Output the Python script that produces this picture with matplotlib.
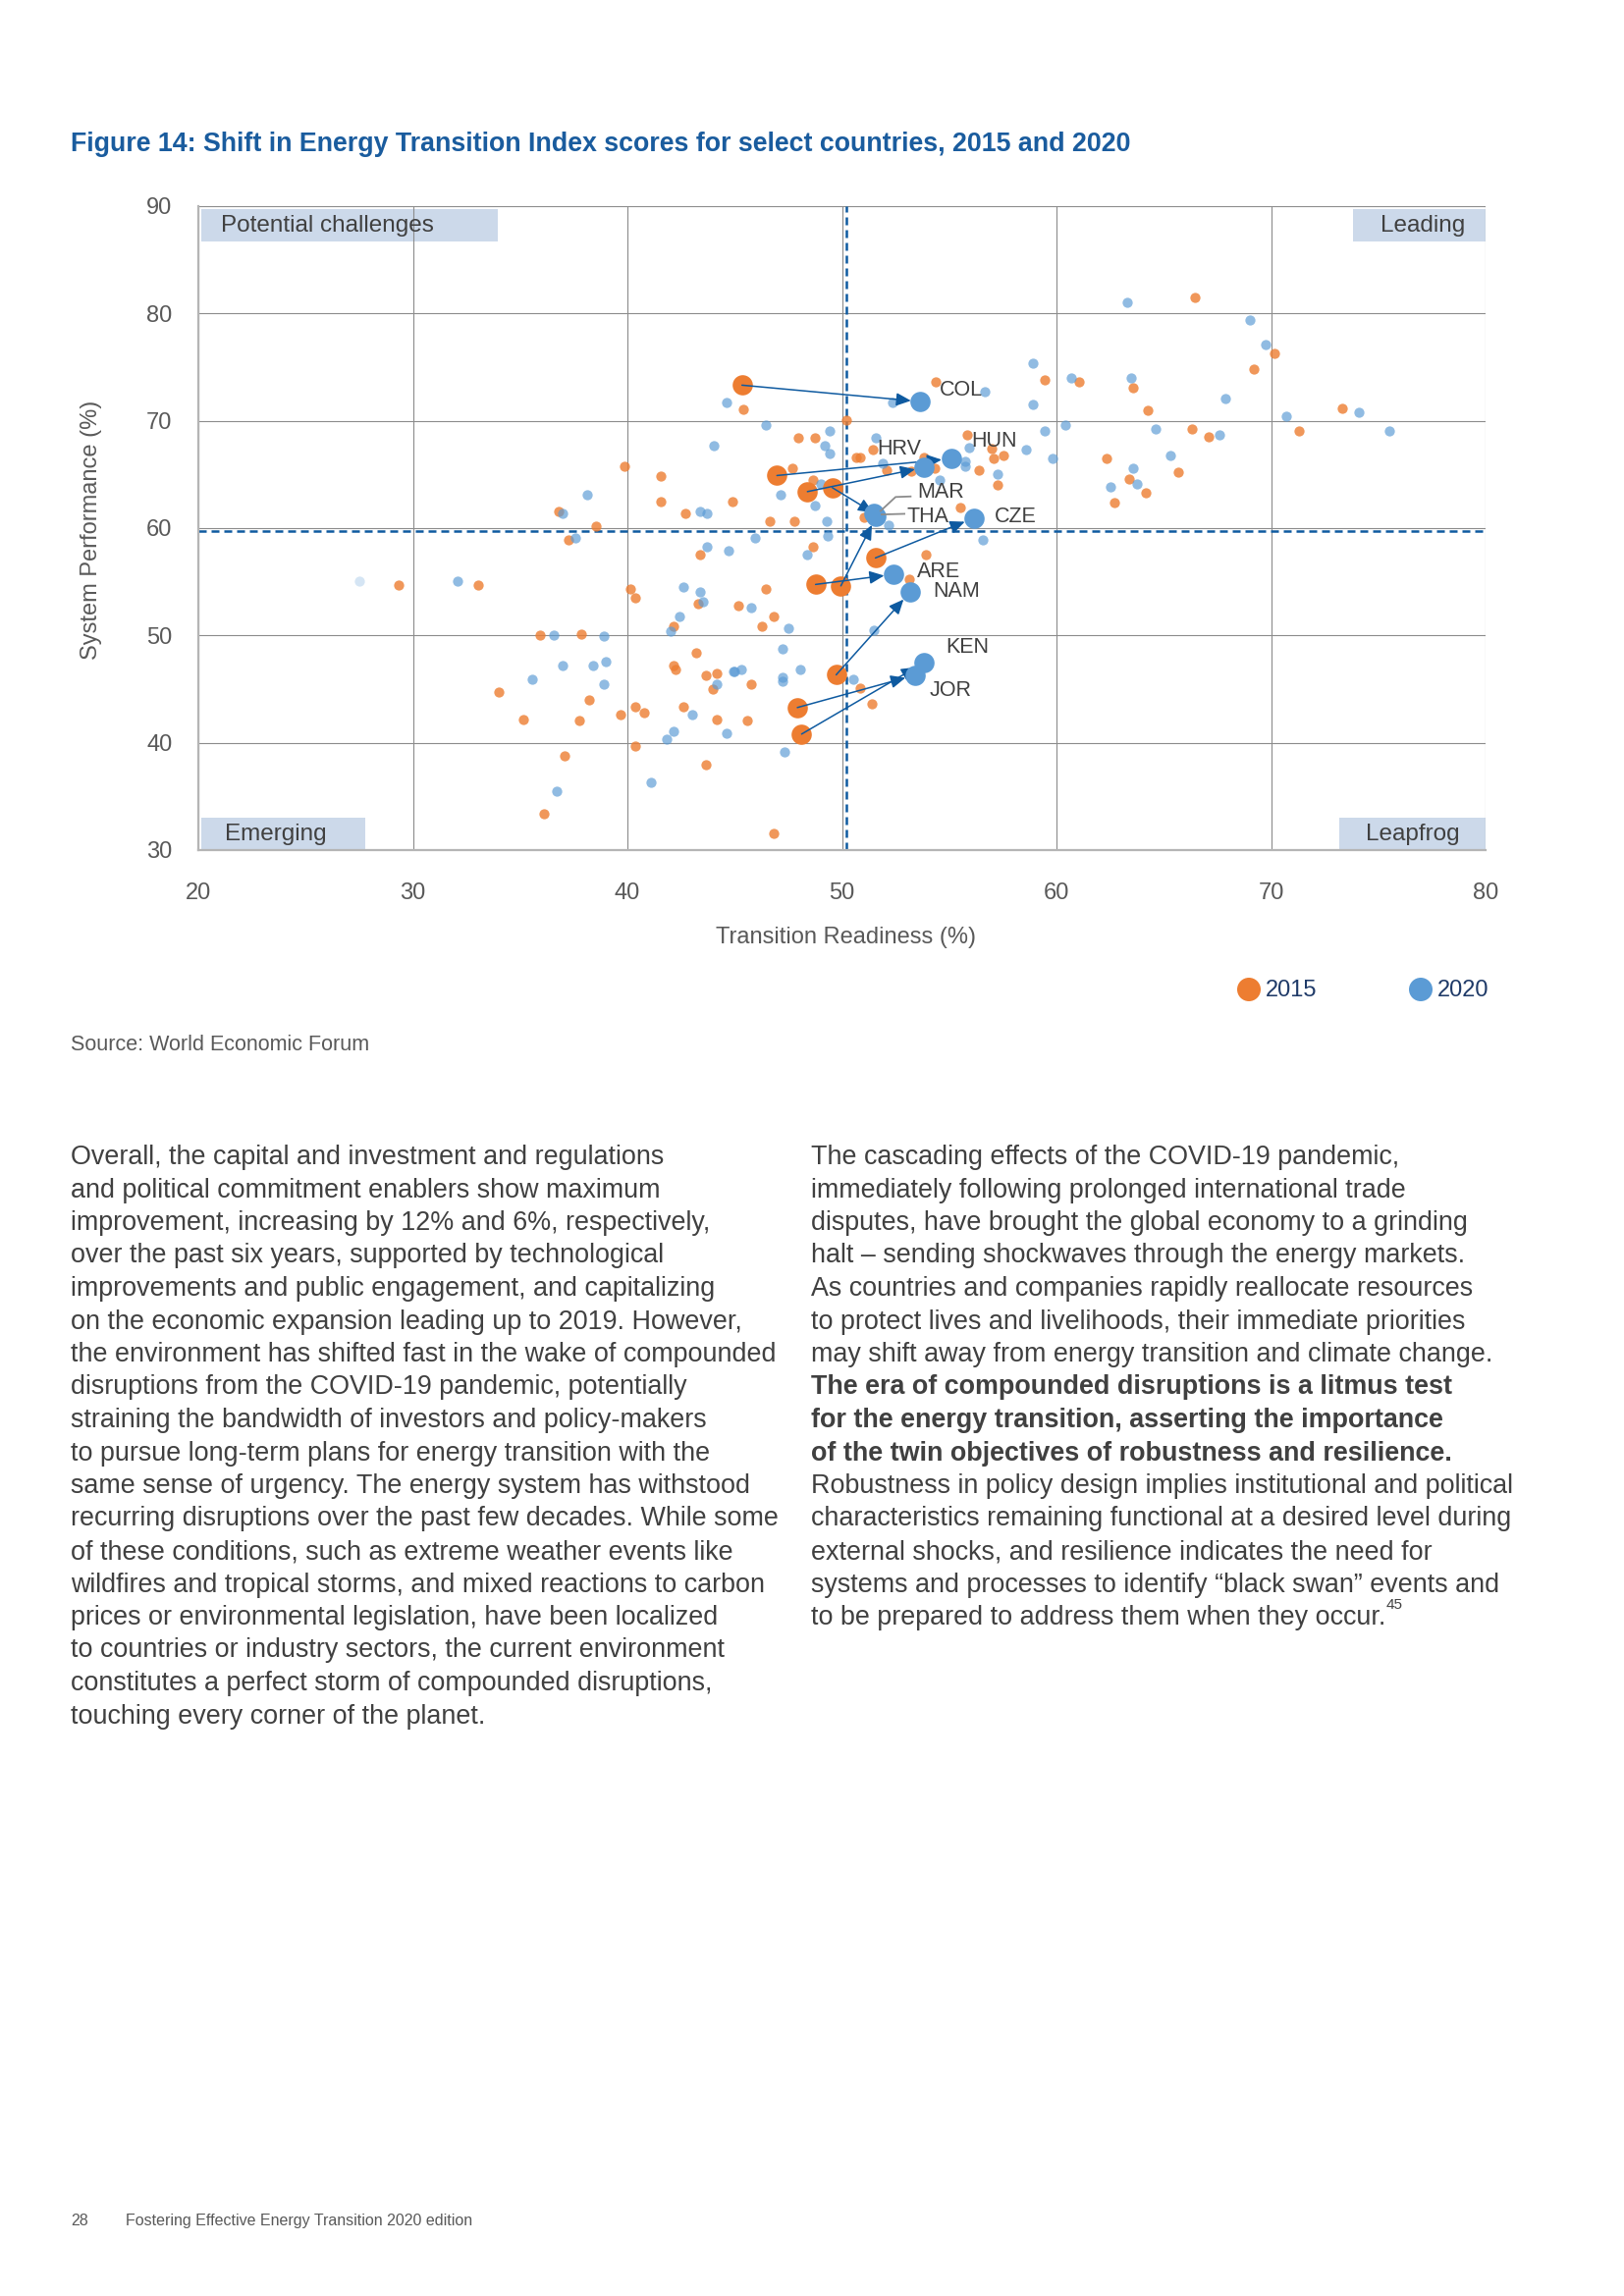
import matplotlib.pyplot as plt
from matplotlib.patches import Rectangle, Circle

plt.rcParams['font.family'] = ['Liberation Sans', 'DejaVu Sans']

# all countries, 2015 scores: transition readiness (x) and system performance (y)
tr_2015 = [29.33, 33.06, 35.93, 34.02, 35.16, 37.07, 36.12, 41.56, 41.56, 42.71,
           36.78, 44.89, 38.52, 37.27, 43.39, 40.12, 40.35, 43.29, 45.19, 42.14,
           37.83, 38.21, 37.76, 39.66, 40.35, 40.8, 43.19, 42.14, 42.25, 43.67,
           44.15, 43.96, 42.6, 44.15, 40.35, 43.67, 45.39, 50.19, 47.98, 48.74,
           51.44, 50.66, 50.86, 39.84, 47.69, 48.65, 46.64, 47.78, 51.04, 48.65,
           46.44, 46.84, 54.36, 59.45, 61.07, 55.82, 56.96, 57.05, 57.54, 52.07,
           53.81, 54.34, 53.24, 56.4, 57.26, 55.53, 53.9, 53.14, 46.26, 45.77,
           50.84, 51.41, 45.59, 46.84, 66.44, 70.17, 69.2, 63.56, 64.24, 73.31,
           71.3, 66.33, 67.11, 62.33, 65.67, 63.38, 64.15, 62.71]
sp_2015 = [54.68, 54.68, 50.05, 44.71, 42.21, 38.76, 33.4, 64.81, 62.49, 61.39,
           61.57, 62.49, 60.2, 58.89, 57.52, 54.32, 53.52, 52.95, 52.79, 50.81,
           50.08, 43.95, 42.03, 42.61, 43.34, 42.79, 48.34, 47.21, 46.84, 46.24,
           46.45, 45.01, 43.36, 42.21, 39.74, 38.0, 71.09, 70.03, 68.44, 68.44,
           67.31, 66.55, 66.55, 65.78, 65.6, 64.45, 60.6, 60.6, 61.03, 58.28,
           54.32, 51.78, 73.62, 73.81, 73.62, 68.68, 67.43, 66.51, 66.76, 65.39,
           66.61, 65.55, 65.3, 65.39, 64.04, 61.94, 57.55, 55.23, 50.84, 45.47,
           45.1, 43.59, 42.06, 31.51, 81.46, 76.3, 74.78, 73.05, 70.94, 71.15,
           69.02, 69.23, 68.47, 66.51, 65.21, 64.59, 63.28, 62.34]

# all countries, 2020 scores
tr_2020 = [32.09, 36.58, 36.98, 35.55, 36.69, 38.14, 36.99, 43.39, 43.7, 37.56,
           43.7, 44.73, 42.6, 43.39, 43.51, 42.43, 42.02, 38.9, 38.41, 38.99,
           38.9, 44.15, 44.94, 43.01, 42.14, 41.84, 44.61, 41.11, 44.64, 46.44,
           49.41, 49.21, 49.41, 51.59, 44.05, 49.03, 47.13, 48.72, 49.3, 45.97,
           49.32, 48.36, 45.77, 56.68, 52.36, 58.88, 58.88, 60.7, 60.42, 59.46,
           58.59, 59.83, 55.93, 55.74, 55.74, 51.89, 54.57, 57.26, 52.18, 56.56,
           47.49, 51.51, 47.22, 48.07, 45.01, 45.3, 47.22, 47.22, 50.54, 47.31,
           63.3, 69.01, 69.77, 63.47, 67.87, 70.73, 74.09, 75.53, 64.62, 67.6,
           65.29, 63.56, 63.77, 62.5]
sp_2020 = [55.02, 50.05, 47.21, 45.87, 35.5, 63.1, 61.39, 61.57, 61.39, 59.05,
           58.28, 57.91, 54.47, 54.07, 53.1, 51.78, 50.41, 49.9, 47.21, 47.58,
           45.47, 45.47, 46.63, 42.61, 41.05, 40.29, 40.9, 36.3, 71.7, 69.6,
           69.05, 67.7, 66.92, 68.44, 67.68, 64.08, 63.1, 62.12, 60.6, 59.05,
           59.26, 57.52, 52.55, 72.68, 71.7, 75.36, 71.52, 73.99, 69.6, 69.02,
           67.31, 66.51, 67.49, 66.21, 65.76, 66.0, 64.47, 65.0, 60.27, 58.87,
           50.66, 50.48, 48.74, 46.82, 46.63, 46.82, 46.08, 45.69, 45.87, 39.16,
           81.06, 79.36, 77.07, 73.99, 72.1, 70.39, 70.76, 69.02, 69.23, 68.65,
           66.76, 65.57, 64.08, 63.86]

# one faded 2020 point at the far left
faint_tr = [27.5]
faint_sp = [55.02]

# highlighted countries
countries = ['COL', 'HUN', 'HRV', 'MAR', 'THA', 'CZE', 'ARE', 'NAM', 'KEN', 'JOR']
c_tr_2015 = [45.34, 46.97, 48.39, 49.55, 49.95, 51.56, 48.77, 49.73, 48.12, 47.92]
c_sp_2015 = [73.32, 64.9, 63.4, 63.77, 54.62, 57.22, 54.75, 46.33, 40.81, 43.28]
c_tr_2020 = [53.66, 55.09, 53.84, 51.5, 51.6, 56.14, 52.41, 53.17, 53.84, 53.39]
c_sp_2020 = [71.79, 66.46, 65.66, 61.39, 61.09, 60.93, 55.69, 54.02, 47.48, 46.29]
label_tr = [54.55, 56.04, 51.65, 53.52, 53.02, 57.13, 53.48, 54.26, 54.86, 54.1]
label_sp = [72.83, 68.1, 67.37, 63.31, 61.03, 61.03, 55.91, 54.11, 48.92, 44.87]
arrow_gap = [7, 7, 7, 1, 7, 7, 7, 7, 7, 7]

avg_tr = 50.2
avg_sp = 59.7

title = 'Figure 14: Shift in Energy Transition Index scores for select countries, 2015 and 2020'

left_col = [
    'Overall, the capital and investment and regulations',
    'and political commitment enablers show maximum',
    'improvement, increasing by 12% and 6%, respectively,',
    'over the past six years, supported by technological',
    'improvements and public engagement, and capitalizing',
    'on the economic expansion leading up to 2019. However,',
    'the environment has shifted fast in the wake of compounded',
    'disruptions from the COVID-19 pandemic, potentially',
    'straining the bandwidth of investors and policy-makers',
    'to pursue long-term plans for energy transition with the',
    'same sense of urgency. The energy system has withstood',
    'recurring disruptions over the past few decades. While some',
    'of these conditions, such as extreme weather events like',
    'wildfires and tropical storms, and mixed reactions to carbon',
    'prices or environmental legislation, have been localized',
    'to countries or industry sectors, the current environment',
    'constitutes a perfect storm of compounded disruptions,',
    'touching every corner of the planet.',
]
right_col = [
    'The cascading effects of the COVID-19 pandemic,',
    'immediately following prolonged international trade',
    'disputes, have brought the global economy to a grinding',
    'halt \u2013 sending shockwaves through the energy markets.',
    'As countries and companies rapidly reallocate resources',
    'to protect lives and livelihoods, their immediate priorities',
    'may shift away from energy transition and climate change.',
    'The era of compounded disruptions is a litmus test',
    'for the energy transition, asserting the importance',
    'of the twin objectives of robustness and resilience.',
    'Robustness in policy design implies institutional and political',
    'characteristics remaining functional at a desired level during',
    'external shocks, and resilience indicates the need for',
    'systems and processes to identify \u201cblack swan\u201d events and',
    'to be prepared to address them when they occur.',
]
bold_lines = [7, 8, 9]

orange = '#ED7D31'
blue = '#5B9BD5'
navy = '#0E5AA0'
grey_txt = '#595959'

W, H = 1654, 2339
fig = plt.figure(figsize=(W / 100, H / 100), dpi=100)

# page layer in pixel coordinates
page = fig.add_axes([0, 0, 1, 1], zorder=0)
page.set_xlim(0, W)
page.set_ylim(H, 0)
page.axis('off')

page.text(72, 154, title, fontsize=19.3, fontweight='bold', color='#1A5C9E', va='baseline')

ax = fig.add_axes([202 / W, 1 - 866 / H, 1311 / W, 656 / H], zorder=1)
ax.set_xlim(20, 80)
ax.set_ylim(30, 90)
ax.set_xticks(range(20, 81, 10))
ax.set_yticks(range(30, 91, 10))
ax.grid(True, color='#8C8C8C', lw=0.8, zorder=0)
for s in ['top', 'right']:
    ax.spines[s].set_visible(False)
for s in ['left', 'bottom']:
    ax.spines[s].set_color('#B5B5B5')
    ax.spines[s].set_linewidth(1.6)
ax.tick_params(axis='x', length=0, pad=24, labelsize=17, labelcolor=grey_txt)
ax.tick_params(axis='y', length=0, pad=19, labelsize=17, labelcolor=grey_txt)
ax.set_xlabel('Transition Readiness (%)', fontsize=17, color=grey_txt)
ax.set_ylabel('System Performance (%)', fontsize=17, color=grey_txt)
ax.xaxis.set_label_coords(0.503, -0.135)
ax.xaxis.label.set_va('center')
ax.yaxis.set_label_coords(-0.083, 0.497)
ax.yaxis.label.set_va('center')

# average lines
ax.axvline(avg_tr, color=navy, lw=1.8, ls=(0, (3.2, 2.0)), zorder=2)
ax.axhline(avg_sp, color=navy, lw=1.8, ls=(0, (3.2, 2.0)), zorder=2)

# quadrant tags
box_c = '#CCD9EA'
ax.add_patch(Rectangle((20.15, 86.7), 13.8, 3.0, color=box_c, lw=0, zorder=1))
ax.add_patch(Rectangle((73.8, 86.7), 6.2, 3.0, color=box_c, lw=0, zorder=1))
ax.add_patch(Rectangle((20.15, 30.0), 7.65, 3.0, color=box_c, lw=0, zorder=1))
ax.add_patch(Rectangle((73.2, 30.0), 6.8, 3.0, color=box_c, lw=0, zorder=1))
q_kw = dict(fontsize=17.5, color='#404040', va='center', zorder=3)
ax.text(21.05, 88.2, 'Potential challenges', ha='left', **q_kw)
ax.text(79.05, 88.2, 'Leading', ha='right', **q_kw)
ax.text(21.25, 31.45, 'Emerging', ha='left', **q_kw)
ax.text(78.8, 31.45, 'Leapfrog', ha='right', **q_kw)

# all countries
ax.scatter(faint_tr, faint_sp, s=55, color=blue, alpha=0.25, lw=0, zorder=3)
ax.scatter(tr_2015, sp_2015, s=55, color=orange, alpha=0.8, lw=0, zorder=3)
ax.scatter(tr_2020, sp_2020, s=55, color=blue, alpha=0.68, lw=0, zorder=3)

# highlighted countries
ax.scatter(c_tr_2015, c_sp_2015, s=220, color=orange, lw=0, zorder=4)
for i in range(len(countries)):
    ax.annotate('', xy=(c_tr_2020[i], c_sp_2020[i]), xytext=(c_tr_2015[i], c_sp_2015[i]),
                arrowprops=dict(arrowstyle='-|>,head_length=0.45,head_width=0.2',
                                color=navy, lw=1.1, shrinkA=0, shrinkB=arrow_gap[i],
                                mutation_scale=20), zorder=5)
ax.scatter(c_tr_2020, c_sp_2020, s=220, color=blue, lw=0, zorder=6)
for i, c in enumerate(countries):
    ax.text(label_tr[i], label_sp[i], c, fontsize=15.5, color='#404040',
            ha='left', va='center', zorder=7)

# leader lines for MAR and THA
ax.plot([53.2, 52.5, 51.8], [62.95, 62.9, 61.6], color='#8C8C8C', lw=1.3, zorder=7)
ax.plot([52.91, 51.85], [61.33, 61.27], color='#8C8C8C', lw=1.3, zorder=7)

# legend
page.add_patch(Circle((1272, 1008), 12, color=orange, lw=0))
page.add_patch(Circle((1447, 1008), 12, color=blue, lw=0))
page.text(1289, 1009, '2015', fontsize=17, color='#1F3A68', va='center')
page.text(1464, 1009, '2020', fontsize=17, color='#1F3A68', va='center')

page.text(72, 1070, 'Source: World Economic Forum', fontsize=15.5, color=grey_txt, va='baseline')

# body text
body_c = '#404040'
for i, line in enumerate(left_col):
    page.text(72, 1186 + 33.5 * i, line, fontsize=19.4, color=body_c, va='baseline')
for i, line in enumerate(right_col):
    t = page.text(826, 1186 + 33.5 * i, line, fontsize=19.4, color=body_c, va='baseline',
                  fontweight='bold' if i in bold_lines else 'normal')
page.annotate('45', xy=(1, 0.72), xycoords=t, fontsize=11, color=body_c, va='bottom', ha='left')

page.text(72, 2267, '28', fontsize=11.5, color=grey_txt, va='baseline')
page.text(128, 2267, 'Fostering Effective Energy Transition 2020 edition', fontsize=11.5,
          color=grey_txt, va='baseline')

fig.savefig('out.png', dpi=100, facecolor='white')
